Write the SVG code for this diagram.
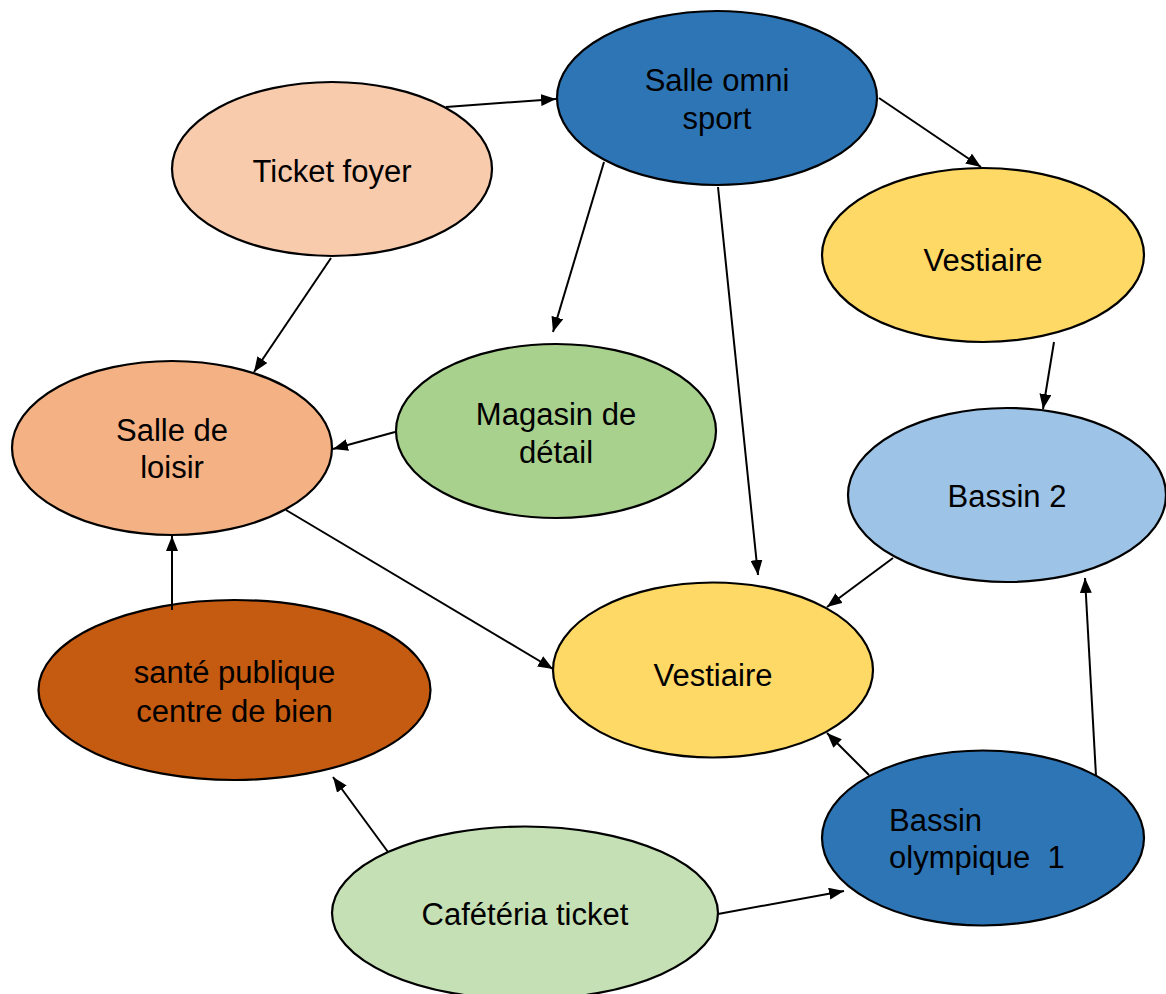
<svg xmlns="http://www.w3.org/2000/svg" width="1166" height="994" viewBox="0 0 1166 994">
<style>
.n{stroke:#000;stroke-width:2.2}
.t{font-family:"Liberation Sans",Arial,sans-serif;font-size:31px;fill:#000;text-anchor:middle}
.tl{font-family:"Liberation Sans",Arial,sans-serif;font-size:31px;fill:#000;text-anchor:start}
.c{stroke:#000;stroke-width:2;fill:none;marker-end:url(#ah)}
</style>
<defs>
<marker id="ah" markerUnits="userSpaceOnUse" markerWidth="16" markerHeight="12" refX="15" refY="6" orient="auto">
<path d="M0,0 L15,6 L0,12 z" fill="#000"/>
</marker>
</defs>
<rect width="1166" height="994" fill="#fff"/>
<g id="ticket-foyer"><ellipse class="n" cx="332" cy="169" rx="160" ry="87" fill="#F8CBAD"/><text class="t" x="332" y="182">Ticket foyer</text></g>
<g id="salle-omni-sport"><ellipse class="n" cx="717" cy="98" rx="160" ry="87" fill="#2E75B6"/><text class="t" x="717" y="91">Salle omni</text><text class="t" x="717" y="129">sport</text></g>
<g id="vestiaire-haut"><ellipse class="n" cx="983" cy="255" rx="161" ry="87" fill="#FFD966"/><text class="t" x="983" y="271">Vestiaire</text></g>
<g id="salle-de-loisir"><ellipse class="n" cx="172" cy="448" rx="160" ry="87" fill="#F4B183"/><text class="t" x="172" y="441">Salle de</text><text class="t" x="172" y="478">loisir</text></g>
<g id="magasin"><ellipse class="n" cx="556" cy="431" rx="160" ry="87" fill="#A9D18E"/><text class="t" x="556" y="425">Magasin de</text><text class="t" x="556" y="463">détail</text></g>
<g id="bassin-2"><ellipse class="n" cx="1007" cy="495" rx="159" ry="87" fill="#9DC3E6"/><text class="t" x="1007" y="507">Bassin 2</text></g>
<g id="sante-publique"><ellipse class="n" cx="234.5" cy="690" rx="196" ry="90" fill="#C55A11"/><text class="t" x="234.5" y="683">santé publique</text><text class="t" x="234.5" y="722">centre de bien</text></g>
<g id="vestiaire-milieu"><ellipse class="n" cx="713" cy="670" rx="160" ry="87.5" fill="#FFD966"/><text class="t" x="713" y="686">Vestiaire</text></g>
<g id="bassin-olympique"><ellipse class="n" cx="983" cy="838" rx="161" ry="87.5" fill="#2E75B6"/><text class="tl" x="889" y="831">Bassin</text><text class="tl" x="889" y="868" xml:space="preserve">olympique  1</text></g>
<g id="cafeteria"><ellipse class="n" cx="525" cy="913" rx="193" ry="86.5" fill="#C5E0B4"/><text class="t" x="525" y="925">Cafétéria ticket</text></g>
<g id="connectors">
<line class="c" x1="446" y1="107" x2="556" y2="99"/>
<line class="c" x1="604" y1="162" x2="553" y2="332"/>
<line class="c" x1="718" y1="187" x2="758" y2="575"/>
<line class="c" x1="879" y1="98" x2="981" y2="167"/>
<line class="c" x1="1054" y1="342" x2="1043" y2="409"/>
<line class="c" x1="331" y1="258" x2="254" y2="372"/>
<line class="c" x1="395" y1="432" x2="333" y2="449"/>
<line class="c" x1="286" y1="510" x2="553" y2="669"/>
<line class="c" x1="172" y1="610" x2="172" y2="536"/>
<line class="c" x1="388" y1="852" x2="333" y2="777"/>
<line class="c" x1="893" y1="558" x2="827" y2="607"/>
<line class="c" x1="869" y1="775" x2="827" y2="733"/>
<line class="c" x1="1096" y1="776" x2="1085" y2="578"/>
<line class="c" x1="718" y1="914" x2="844" y2="891"/>
</g>
</svg>
